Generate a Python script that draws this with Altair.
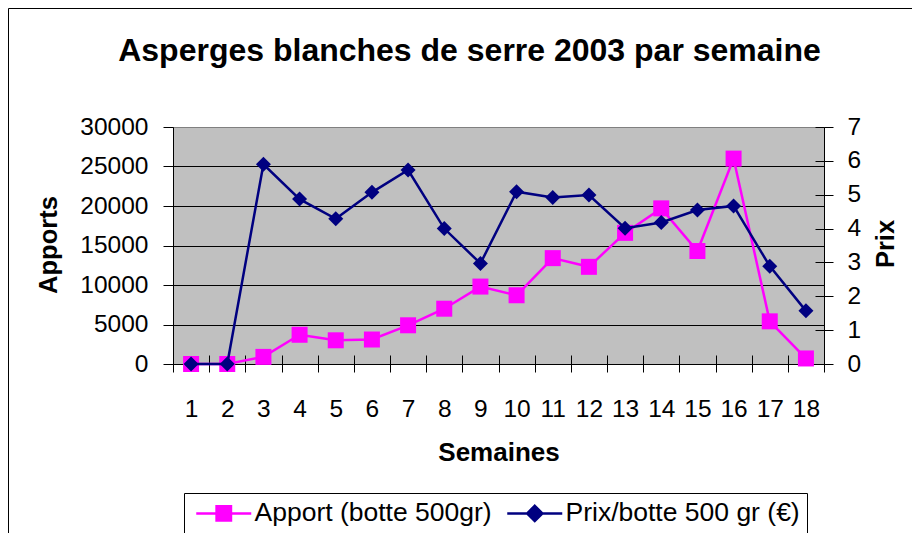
import altair as alt
import pandas as pd

# ---- data ----
weeks = [1, 2, 3, 4, 5, 6, 7, 8, 9, 10, 11, 12, 13, 14, 15, 16, 17, 18]
apport = [0, 0, 900, 3700, 3000, 3100, 4900, 7000, 9800, 8700, 13400, 12300,
          16600, 19700, 14300, 26000, 5400, 700]
prix = [0, 0, 5.9, 4.87, 4.29, 5.07, 5.73, 4.0, 2.97, 5.09, 4.92, 4.99,
        4.01, 4.18, 4.55, 4.67, 2.89, 1.57]
series_names = ["Apport (botte 500gr)", "Prix/botte 500 gr (€)"]
series_colors = ["#FF00FF", "#000080"]
left_ticks = [0, 5000, 10000, 15000, 20000, 25000, 30000]
right_ticks = [0, 1, 2, 3, 4, 5, 6, 7]
title_text = ["Asperges blanches de serre 2003 par semaine"]

# legend symbols: a line with a square / diamond on it
legend_paths = [
    "M-1,0L5.875,0M1.54,-0.9L3.34,-0.9L3.34,0.9L1.54,0.9Z",
    "M-1,0L5.875,0M2.44,-0.95L3.39,0L2.44,0.95L1.49,0Z",
]

FONT = "Liberation Sans"

df = pd.DataFrame({"Semaine": weeks, "Apport": apport, "Prix": prix})
leg_df = pd.DataFrame({"series": series_names})
one = pd.DataFrame({"k": [0]})
title_df = pd.DataFrame({"t": title_text})

x_enc = alt.X(
    "Semaine:O",
    scale=alt.Scale(type="band", paddingInner=0, paddingOuter=0),
    axis=alt.Axis(
        title="Semaines", labelAngle=0, labelFontSize=24.5, labelFont=FONT,
        labelColor="black", tickBand="extent", tickSize=8, tickColor="black",
        tickWidth=1, domainColor="black", domainWidth=1, labelPadding=25,
        titleFontSize=26, titleFont=FONT, titleFontWeight="bold",
        titleColor="black", titleBaseline="alphabetic", titleY=96, grid=False,
    ),
)
# inner half of the crossing x ticks
x_enc_inner = alt.X(
    "Semaine:O",
    scale=alt.Scale(type="band", paddingInner=0, paddingOuter=0),
    axis=alt.Axis(
        title="", labels=False, domain=False, tickBand="extent", tickSize=9,
        tickColor="black", tickWidth=1, offset=-9, grid=False, orient="bottom",
    ),
)

left_axis = alt.Axis(
    orient="left", values=left_ticks, format="d", labelFontSize=24.5,
    labelFont=FONT, labelColor="black", tickSize=10, tickColor="black",
    labelPadding=15, domainColor="black", domainWidth=1, grid=True,
    gridColor={"condition": {"test": "datum.value >= 30000", "value": "#808080"},
               "value": "black"},
    gridWidth=1, gridOpacity=1,
    title="Apports", titleFontSize=25.5, titleFont=FONT, titleFontWeight="bold",
    titleColor="black", titleAngle=270, titleX=-117, titleY=117.5,
    titleBaseline="alphabetic", titleAlign="center",
)

right_axis = alt.Axis(
    orient="right", values=right_ticks, format="d", labelFontSize=24.5,
    labelFont=FONT, labelColor="black", tickSize=9, tickColor="black",
    labelPadding=14, domainColor="black", domainWidth=1, grid=False,
    title="Prix", titleFontSize=25.5, titleFont=FONT, titleFontWeight="bold",
    titleColor="black", titleAngle=270, titleX=69, titleY=116.5,
    titleBaseline="alphabetic", titleAlign="center",
)
# inner half of the crossing right-axis ticks
right_axis_inner = alt.Axis(
    orient="right", values=right_ticks, labels=False, domain=False, tickSize=9,
    tickColor="black", offset=-9, grid=False, title="",
)

left_scale = alt.Scale(domain=[0, 30000], nice=False)
right_scale = alt.Scale(domain=[0, 7], nice=False)

base = alt.Chart(df)
line_a = base.mark_line(color=series_colors[0], strokeWidth=2.5).encode(
    x=x_enc, y=alt.Y("Apport:Q", scale=left_scale, axis=left_axis))
pts_a = base.mark_point(shape="square", filled=True, size=256, color=series_colors[0],
                        opacity=1, strokeWidth=0).encode(
    x=x_enc, y=alt.Y("Apport:Q", scale=left_scale, axis=left_axis))
line_p = base.mark_line(color=series_colors[1], strokeWidth=2.5).encode(
    x=x_enc_inner, y=alt.Y("Prix:Q", scale=right_scale, axis=right_axis))
pts_p = base.mark_point(shape="diamond", filled=True, size=225, color=series_colors[1],
                        opacity=1, strokeWidth=0).encode(
    x=x_enc_inner, y=alt.Y("Prix:Q", scale=right_scale, axis=right_axis_inner))

left_layer = alt.layer(line_a, pts_a)
right_layer = alt.layer(line_p, pts_p).resolve_axis(y="independent")

leg = alt.Legend(
    orient="none", legendX=11, legendY=366, direction="horizontal", title=None,
    labelFontSize=26.5, labelFont=FONT, labelColor="black", strokeColor="black",
    padding=7, symbolSize=256, symbolStrokeWidth=2.5, labelOffset=37,
    columnPadding=10, columns=2, fillColor="white", symbolOpacity=1,
    labelLimit=500,
)
legend_layer = alt.Chart(leg_df).mark_point(
    filled=True, clip=True, strokeWidth=2.5, opacity=1, size=256
).encode(
    x=alt.value(-3000), y=alt.value(-3000),
    fill=alt.Fill("series:N", scale=alt.Scale(domain=series_names, range=series_colors), legend=leg),
    stroke=alt.Stroke("series:N", scale=alt.Scale(domain=series_names, range=series_colors), legend=leg),
    shape=alt.Shape("series:N", scale=alt.Scale(domain=series_names, range=legend_paths), legend=leg),
)

# chart title, drawn as text
title_layer = alt.Chart(title_df).mark_text(
    font=FONT, fontSize=32, fontWeight="bold", color="black",
    align="center", baseline="alphabetic",
).encode(text="t:N", x=alt.value(296.5), y=alt.value(-66.5))

# outer chart frame (decoration)
frame_top = alt.Chart(one).mark_rule(color="black", strokeWidth=1).encode(
    x=alt.value(-164.5), x2=alt.value(739), y=alt.value(-118.5))
frame_left = alt.Chart(one).mark_rule(color="black", strokeWidth=1).encode(
    x=alt.value(-164.5), y=alt.value(-118.5), y2=alt.value(406))

chart = alt.layer(
    left_layer, right_layer, legend_layer, title_layer, frame_top, frame_left
).resolve_scale(
    y="independent"
).resolve_axis(
    x="independent"
).properties(
    width=651, height=237,
    autosize=alt.AutoSizeParams(type="none"),
    padding={"left": 165, "top": 119, "right": 88, "bottom": 169},
    background="white",
).configure_view(
    fill="#C0C0C0", stroke="#808080", strokeWidth=1
)

chart.save("out.html", embed_options={"renderer": "svg", "actions": False})
